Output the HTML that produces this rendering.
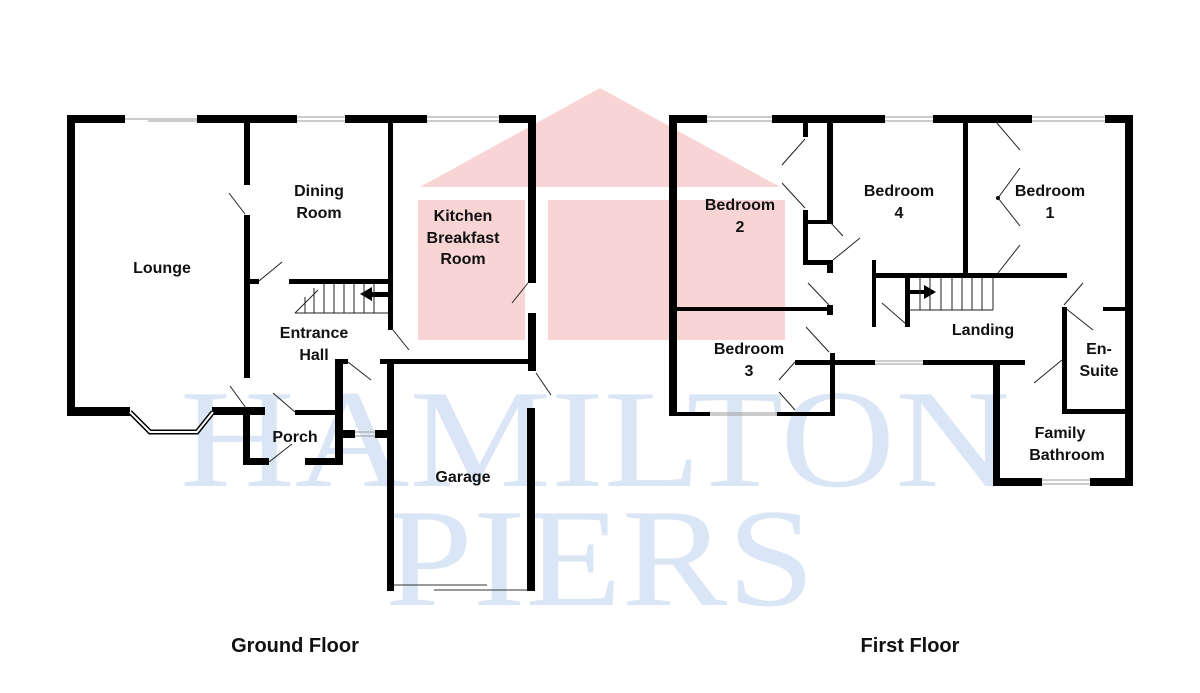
<!DOCTYPE html>
<html><head><meta charset="utf-8"><style>
html,body{margin:0;padding:0;background:#fff;}
svg{display:block;}
.l{font-family:"Liberation Sans",sans-serif;font-weight:bold;font-size:16px;fill:#111;text-anchor:middle;}
.t{font-family:"Liberation Sans",sans-serif;font-weight:bold;font-size:20px;fill:#111;text-anchor:middle;}
.w{fill:#000;}
.d{stroke:#222;stroke-width:1;fill:none;}
.win{stroke:#999;stroke-width:1;fill:none;}
</style></head><body>
<svg width="1200" height="693" viewBox="0 0 1200 693" xmlns="http://www.w3.org/2000/svg">
<g fill="#f8d4d4">
<polygon points="420,187 600,88 780,187"/>
<rect x="418" y="200" width="107" height="140"/>
<rect x="548" y="200" width="237" height="140"/>
</g>
<g fill="#dae5f6" font-family="'Liberation Serif',serif">
<text x="180" y="486" font-size="140" textLength="830" lengthAdjust="spacingAndGlyphs">HAMILTON</text>
<text x="385" y="605" font-size="140" textLength="430" lengthAdjust="spacingAndGlyphs">PIERS</text>
</g>

<g class="w">
<rect x="67" y="115" width="58" height="8"/>
<rect x="197" y="115" width="100" height="8"/>
<rect x="345" y="115" width="82" height="8"/>
<rect x="499" y="115" width="37" height="8"/>
<rect x="67" y="115" width="8" height="301"/>
<rect x="67" y="407" width="63" height="9"/>
<rect x="212" y="407" width="53" height="8"/>
<rect x="528" y="115" width="8" height="168"/>
<rect x="528" y="313" width="8" height="58"/>
<rect x="244" y="123" width="6" height="62"/>
<rect x="244" y="215" width="6" height="163"/>
<rect x="250" y="279" width="9" height="5"/>
<rect x="289" y="279" width="99" height="5"/>
<rect x="388" y="123" width="5" height="207"/>
<rect x="380" y="359" width="156" height="5"/>
<rect x="338" y="359" width="10" height="5"/>
<rect x="335" y="359" width="8" height="106"/>
<rect x="243" y="407" width="7" height="58"/>
<rect x="243" y="458" width="26" height="7"/>
<rect x="305" y="458" width="38" height="7"/>
<rect x="295" y="410" width="43" height="5"/>
<rect x="343" y="430" width="12" height="8"/>
<rect x="375" y="430" width="13" height="8"/>
<rect x="387" y="359" width="7" height="232"/>
<rect x="527" y="408" width="8" height="183"/>
<rect x="370" y="292" width="18" height="5"/>
<polygon points="360,294 372,287 372,301"/>
</g>
<polyline points="130,412 150,432 197,432 213,412" fill="none" stroke="#000" stroke-width="5"/>
<polyline points="130,412 150,432 197,432 213,412" fill="none" stroke="#fff" stroke-width="2"/>
<g class="win">
<line x1="125" y1="119" x2="197" y2="119"/><line x1="148" y1="121" x2="197" y2="121"/>
<line x1="297" y1="117" x2="345" y2="117"/><line x1="297" y1="121" x2="345" y2="121"/>
<line x1="427" y1="117" x2="499" y2="117"/><line x1="427" y1="121" x2="499" y2="121"/>
<line x1="355" y1="432" x2="375" y2="432"/><line x1="355" y1="436" x2="375" y2="436"/>
<line x1="394" y1="585" x2="487" y2="585" stroke="#333"/><line x1="434" y1="590" x2="527" y2="590" stroke="#333"/>
</g>
<g class="d">
<line x1="295" y1="313" x2="388" y2="313"/>
<line x1="295" y1="313" x2="318" y2="290"/>
<line x1="305" y1="297" x2="305" y2="313"/><line x1="314" y1="288" x2="314" y2="313"/>
<line x1="324" y1="284" x2="324" y2="313"/><line x1="334" y1="284" x2="334" y2="313"/>
<line x1="344" y1="284" x2="344" y2="313"/><line x1="354" y1="284" x2="354" y2="313"/>
<line x1="364" y1="284" x2="364" y2="313"/><line x1="374" y1="284" x2="374" y2="313"/>
<line x1="229" y1="193" x2="245" y2="214"/>
<line x1="259" y1="281" x2="282" y2="262"/>
<line x1="393" y1="330" x2="409" y2="350"/>
<line x1="512" y1="303" x2="528" y2="283"/>
<line x1="348" y1="362" x2="371" y2="380"/>
<line x1="230" y1="386" x2="246" y2="408"/>
<line x1="273" y1="393" x2="295" y2="412"/>
<line x1="269" y1="462" x2="292" y2="444"/>
<line x1="536" y1="373" x2="551" y2="395"/>
</g>

<g class="w">
<rect x="669" y="115" width="38" height="8"/>
<rect x="772" y="115" width="113" height="8"/>
<rect x="933" y="115" width="99" height="8"/>
<rect x="1105" y="115" width="28" height="8"/>
<rect x="669" y="115" width="8" height="301"/>
<rect x="1125" y="115" width="8" height="371"/>
<rect x="803" y="123" width="5" height="14"/>
<rect x="827" y="123" width="6" height="99"/>
<rect x="803" y="210" width="5" height="55"/>
<rect x="803" y="220" width="30" height="4"/>
<rect x="803" y="260" width="30" height="5"/>
<rect x="827" y="260" width="6" height="13"/>
<rect x="963" y="123" width="5" height="150"/>
<rect x="873" y="273" width="194" height="5"/>
<rect x="872" y="260" width="4" height="67"/>
<rect x="905" y="277" width="5" height="50"/>
<rect x="677" y="307" width="156" height="4"/>
<rect x="827" y="305" width="6" height="10"/>
<rect x="795" y="360" width="80" height="5"/>
<rect x="923" y="360" width="102" height="5"/>
<rect x="830" y="353" width="5" height="63"/>
<rect x="669" y="412" width="41" height="4"/>
<rect x="777" y="412" width="58" height="4"/>
<rect x="993" y="360" width="7" height="126"/>
<rect x="993" y="478" width="49" height="8"/>
<rect x="1090" y="478" width="43" height="8"/>
<rect x="1062" y="307" width="5" height="107"/>
<rect x="1062" y="409" width="71" height="5"/>
<rect x="1103" y="307" width="30" height="4"/>
<rect x="910" y="290" width="15" height="4"/>
<polygon points="936,292 924,285 924,299"/>
<circle cx="998" cy="198" r="2"/>
</g>
<g class="win">
<line x1="707" y1="117" x2="772" y2="117"/><line x1="707" y1="121" x2="772" y2="121"/>
<line x1="885" y1="117" x2="933" y2="117"/><line x1="885" y1="121" x2="933" y2="121"/>
<line x1="1032" y1="117" x2="1105" y2="117"/><line x1="1032" y1="121" x2="1105" y2="121"/>
<line x1="875" y1="361" x2="923" y2="361"/><line x1="875" y1="364" x2="923" y2="364"/>
<line x1="710" y1="413" x2="777" y2="413"/><line x1="710" y1="415" x2="777" y2="415"/>
<line x1="1042" y1="480" x2="1090" y2="480"/><line x1="1042" y1="484" x2="1090" y2="484"/>
</g>
<g class="d">
<line x1="910" y1="310" x2="993" y2="310"/><line x1="993" y1="277" x2="993" y2="310"/>
<line x1="920" y1="277" x2="920" y2="310"/><line x1="930" y1="277" x2="930" y2="310"/>
<line x1="941" y1="277" x2="941" y2="310"/><line x1="952" y1="277" x2="952" y2="310"/>
<line x1="962" y1="277" x2="962" y2="310"/><line x1="972" y1="277" x2="972" y2="310"/>
<line x1="982" y1="277" x2="982" y2="310"/>
<line x1="782" y1="165" x2="805" y2="139"/>
<line x1="782" y1="183" x2="805" y2="208"/>
<line x1="830" y1="222" x2="843" y2="236"/>
<line x1="833" y1="260" x2="860" y2="238"/>
<line x1="808" y1="283" x2="829" y2="305"/>
<line x1="882" y1="303" x2="906" y2="324"/>
<line x1="806" y1="327" x2="829" y2="352"/>
<line x1="779" y1="380" x2="795" y2="362"/>
<line x1="779" y1="392" x2="795" y2="410"/>
<line x1="996" y1="122" x2="1020" y2="150"/>
<line x1="998" y1="198" x2="1020" y2="168"/>
<line x1="998" y1="198" x2="1020" y2="226"/>
<line x1="998" y1="273" x2="1020" y2="245"/>
<line x1="1064" y1="305" x2="1083" y2="283"/>
<line x1="1064" y1="307" x2="1093" y2="330"/>
<line x1="1034" y1="383" x2="1062" y2="360"/>
</g>

<text class="l" x="162" y="273">Lounge</text>
<text class="l" x="319" y="196">Dining</text><text class="l" x="319" y="218">Room</text>
<text class="l" x="463" y="221">Kitchen</text><text class="l" x="463" y="243">Breakfast</text><text class="l" x="463" y="264">Room</text>
<text class="l" x="314" y="338">Entrance</text><text class="l" x="314" y="360">Hall</text>
<text class="l" x="295" y="442">Porch</text>
<text class="l" x="463" y="482">Garage</text>
<text class="l" x="740" y="210">Bedroom</text><text class="l" x="740" y="232">2</text>
<text class="l" x="899" y="196">Bedroom</text><text class="l" x="899" y="218">4</text>
<text class="l" x="1050" y="196">Bedroom</text><text class="l" x="1050" y="218">1</text>
<text class="l" x="983" y="335">Landing</text>
<text class="l" x="749" y="354">Bedroom</text><text class="l" x="749" y="376">3</text>
<text class="l" x="1099" y="354">En-</text><text class="l" x="1099" y="376">Suite</text>
<text class="l" x="1060" y="438">Family</text><text class="l" x="1067" y="460">Bathroom</text>
<text class="t" x="295" y="652">Ground Floor</text>
<text class="t" x="910" y="652">First Floor</text>
</svg>
</body></html>
